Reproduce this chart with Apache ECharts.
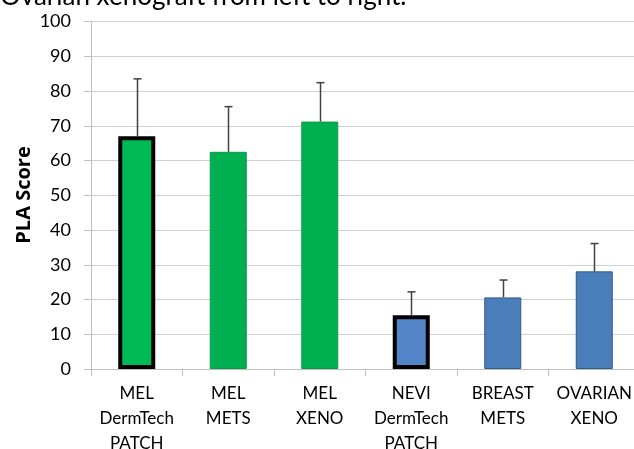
<!DOCTYPE html>
<html>
<head>
<meta charset="utf-8">
<script src="https://cdn.jsdelivr.net/npm/echarts@6/dist/echarts.min.js"></script>
<style>
  html, body { margin: 0; padding: 0; background: #fff; }
  #chart { width: 634px; height: 449px; }
</style>
</head>
<body>
<div id="chart"></div>
<script>
// Sample groups (multi-line category labels)
const categories = [
  'MEL\nDermTech\nPATCH',
  'MEL\nMETS',
  'MEL\nXENO',
  'NEVI\nDermTech\nPATCH',
  'BREAST\nMETS',
  'OVARIAN\nXENO'
];
// Mean PLA score per group
const plaScores = [67, 62.5, 71.2, 15.5, 20.6, 28.1];
// Upper end of the error bar (mean + SD)
const errorTops = [83.5, 75.5, 82.4, 22.2, 25.6, 36.1];
// Which groups come from the DermTech patch (outlined in black)
const patchGroups = [true, false, false, true, false, false];
// Y axis ticks
const yTicks = [0, 10, 20, 30, 40, 50, 60, 70, 80, 90, 100];

const FONT = 'Lato, "Open Sans", sans-serif';

function barStyle(i) {
  const melanoma = i < 3;
  if (patchGroups[i]) {
    return {
      color: melanoma ? '#00BB55' : '#5585C9',
      borderColor: '#000000',
      borderWidth: 4
    };
  }
  return {
    color: melanoma ? '#00B050' : '#4A7EBB',
    borderColor: melanoma ? '#0A9A48' : '#2F5A8C',
    borderWidth: 1
  };
}

const chart = echarts.init(document.getElementById('chart'), null, { renderer: 'canvas' });

chart.setOption({
  animation: false,
  backgroundColor: '#ffffff',
  grid: {
    left: 91, right: -6, top: 21.5, bottom: 80,
    containLabel: false,
    outerBoundsMode: 'none'
  },
  graphic: [
    {
      type: 'text',
      left: 0,
      top: -16,
      style: {
        text: 'Ovarian xenograft from left to right.',
        font: '26px ' + FONT,
        fill: '#000000'
      }
    },
    {
      type: 'text',
      x: 24,
      y: 195,
      rotation: Math.PI / 2,
      style: {
        text: 'PLA Score',
        font: 'bold 20px "Open Sans", sans-serif',
        fill: '#000000',
        align: 'center',
        verticalAlign: 'middle'
      }
    }
  ],
  xAxis: {
    type: 'category',
    data: categories,
    axisLine: { show: true, lineStyle: { color: '#BFBFBF', width: 1 } },
    axisTick: { show: true, length: 7, lineStyle: { color: '#BFBFBF' } },
    axisLabel: {
      interval: 0,
      margin: 12,
      fontFamily: FONT,
      fontSize: 17,
      lineHeight: 25,
      color: '#000000'
    },
    splitLine: { show: false }
  },
  yAxis: {
    type: 'value',
    min: yTicks[0],
    max: yTicks[yTicks.length - 1],
    interval: 10,
    axisLine: { show: true, lineStyle: { color: '#BFBFBF', width: 1 } },
    axisTick: { show: true, length: 7, lineStyle: { color: '#BFBFBF' } },
    axisLabel: {
      margin: 20,
      fontFamily: FONT,
      fontSize: 18,
      color: '#000000'
    },
    splitLine: { show: true, lineStyle: { color: '#D0D0D0', width: 1 } }
  },
  series: [
    {
      type: 'bar',
      barWidth: 37,
      data: plaScores.map((v, i) => ({ value: v, itemStyle: barStyle(i) })),
      z: 2
    },
    {
      type: 'custom',
      z: 3,
      data: plaScores.map((v, i) => [i, v, errorTops[i]]),
      renderItem: function (params, api) {
        const base = api.coord([api.value(0), api.value(1)]);
        const top = api.coord([api.value(0), api.value(2)]);
        const x = Math.round(base[0]) + 0.5;
        const half = 4;
        const style = { stroke: '#404040', lineWidth: 1.5 };
        return {
          type: 'group',
          children: [
            { type: 'line', shape: { x1: x, y1: base[1], x2: x, y2: top[1] }, style: style },
            { type: 'line', shape: { x1: x - half, y1: top[1], x2: x + half, y2: top[1] }, style: style }
          ]
        };
      }
    }
  ]
});
</script>
</body>
</html>
